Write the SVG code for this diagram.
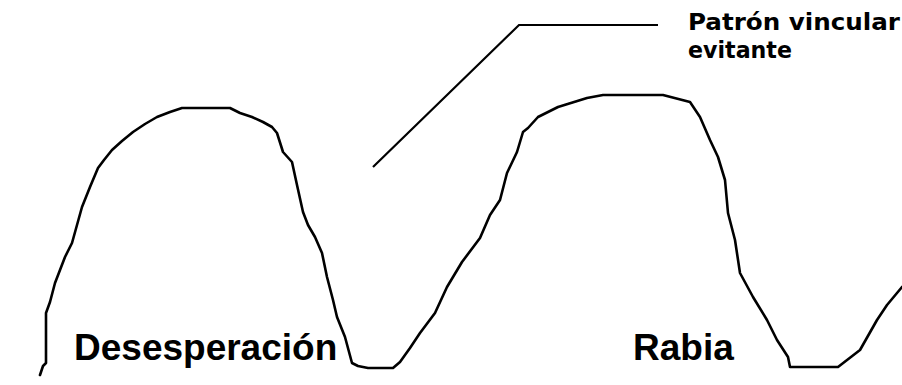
<svg xmlns="http://www.w3.org/2000/svg" width="902" height="385" viewBox="0 0 902 385">
  <style>
    .wave { fill: none; stroke: #000; stroke-width: 2.6; stroke-linejoin: round; stroke-linecap: round; }
    .leader { fill: none; stroke: #000; stroke-width: 2.2; stroke-linejoin: miter; }
    .big { font-family: "Liberation Sans", Arial, sans-serif; font-weight: bold; font-size: 37px; fill: #000; }
    .small { font-family: "DejaVu Sans", "Liberation Sans", sans-serif; font-weight: bold; font-size: 23px; fill: #000; }
  </style>
  <rect width="902" height="385" fill="#fff"/>
  <g id="connectors">
    <polyline id="wave" class="wave" points="40,375 43,366 46,363 46,313 50,302 55,283 60,270 65,257 72,243 77,225 82,207 90,187 98,168 104,160 112,150 122,141 133,132 145,124 157,117 170,112 182,108 230,108 240,113 252,117 263,122 272,127 277,133 283,152 292,162 297,185 303,212 308,225 315,237 322,253 327,277 333,300 337,317 345,337 352,363 358,366 368,368 393,368 400,362 410,348 420,333 435,313 447,287 462,262 480,238 490,215 500,200 507,173 517,152 523,132 528,128 538,117 558,107 587,98 603,95 663,95 690,102 700,117 710,140 718,157 725,180 728,213 735,240 740,273 753,297 767,320 777,340 788,357 790,367 838,367 860,350 877,320 887,305 897,293 902,287"/>
    <polyline id="leader" class="leader" points="373,167 519,25 658,25"/>
  </g>
  <g id="label-desesperacion">
    <text class="big" x="74" y="360">Desesperación</text>
  </g>
  <g id="label-rabia">
    <text class="big" x="633" y="360">Rabia</text>
  </g>
  <g id="label-patron">
    <text class="small" x="688" y="30" textLength="212" lengthAdjust="spacingAndGlyphs">Patrón vincular</text>
    <text class="small" x="688" y="58" textLength="104" lengthAdjust="spacingAndGlyphs">evitante</text>
  </g>
</svg>
